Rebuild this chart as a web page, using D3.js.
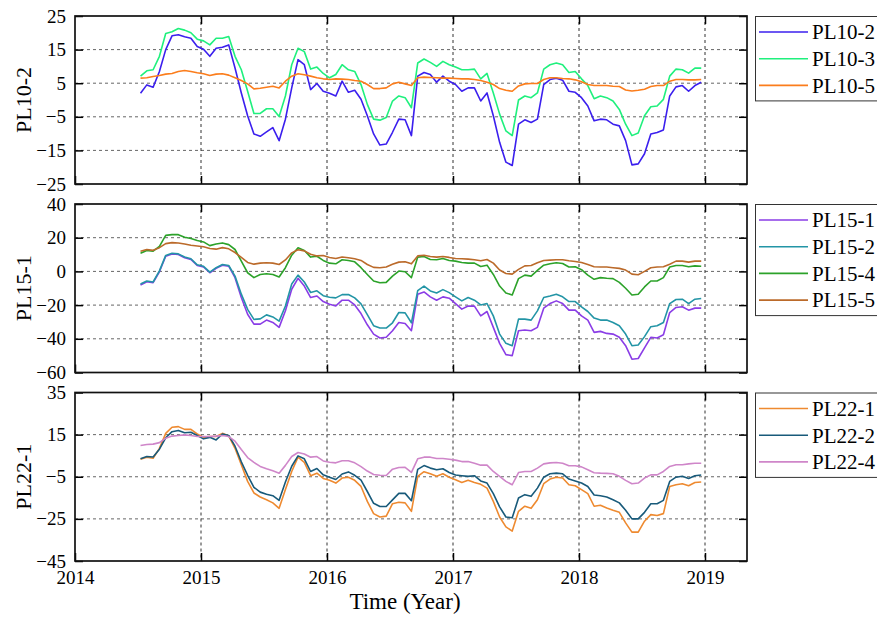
<!DOCTYPE html>
<html>
<head>
<meta charset="utf-8">
<script src="https://cdn.jsdelivr.net/npm/d3@7"></script>
<style>
  body { margin: 0; background: #fff; }
  svg text { font-family: "Liberation Serif", "Times New Roman", serif; }
</style>
</head>
<body>
<svg id="chart" width="877" height="621"></svg>
<script>
// time axis: one point every 0.05 year from mid 2014
const times = d3.range(90).map(i => 2014.52 + i * 0.05)
const yearTicks = [2014, 2015, 2016, 2017, 2018, 2019]
const serif = '"Liberation Serif", "Times New Roman", serif'

const pl10_2 = [2.0,4.5,3.8,8.5,15,19.1,19.4,18.8,18.4,15.9,15.1,13,15.4,15.7,16.4,9.5,2.1,-4.7,-10.1,-10.8,-9.5,-8.2,-12.1,-5.7,3.6,12,10.5,3.1,4.9,2.6,2.0,1.2,5.6,2.3,2.9,0.2,-4.7,-10.1,-13.4,-13.1,-9.6,-5.7,-5.9,-10.6,7.1,8.2,
  7.6,5.3,7.1,5.6,4.6,2.6,3.6,3.6,-0.3,2.1,-4.7,-12.6,-18.5,-19.5,-7.2,-5.9,-6.7,-5.7,4.6,6.1,6.5,5.9,2.6,2.3,0.7,-1.8,-6.2,-5.7,-5.9,-7.2,-7.7,-12.1,-19.3,-19,-16,-10.1,-9.7,-8.9,1.2,3.9,4.3,2.6,4.3,5.3]
const pl10_3 = [7.1,8.7,9.0,13,19.8,20.3,21.3,20.8,20,18.1,17.6,16.4,18.4,18.4,18.9,13,9,2.6,-4,-4,-2.6,-2.6,-4.9,1.2,10.5,15.4,14.4,9.2,9.8,7.9,6.6,7.6,10.5,9,8.5,4.6,-1.3,-5.7,-6,-5.2,-0.3,1.2,0.7,-2.3,11,12.2,
  11.2,10,11.5,10.5,9.8,9,9,9.2,6.3,7.9,2.1,-4.2,-9.2,-10.6,0,1.2,0.7,2.1,9.2,10.5,11,10.5,8.2,8.5,6.3,4.3,0.4,1.2,0.7,-0.3,-2.8,-7.2,-10.6,-9.8,-4.7,-2,-1.8,0.2,7.1,9.2,9,8,9.5,9.5]
const pl10_5 = [6.5,6.6,7.0,7.3,7.7,7.9,8.5,8.8,8.5,8.1,7.8,7.3,7.7,7.8,7.4,6.6,5.8,4.8,3.3,3.5,3.8,4.1,3.6,5.6,7.1,7.8,7.5,7.1,6.6,6.3,6.1,6.3,6.2,6.1,5.8,5.6,4.6,3.4,3.4,3.6,4.8,5.3,4.8,4.3,6.6,6.8,
  6.7,6.6,6.5,6.5,6.4,6.3,6.3,6.1,5.8,5.3,4.6,3.4,2.9,2.6,4.2,4.8,4.9,4.9,6.1,6.6,6.6,6.4,6.3,6.0,5.4,4.6,4.3,4.3,4.3,4.1,4.0,3.0,2.7,2.9,3.2,4.0,4.3,4.3,5.6,6.1,6.1,6.0,6.0,6.1]

const pl15_1 = [-8.1,-6.1,-6.7,-0.2,9.0,10.4,10,8.1,7.1,3.5,2.6,-0.8,1.8,3.7,3.1,-3.7,-15.5,-25.4,-31.3,-31.3,-28.9,-30.3,-33.2,-23.4,-10.6,-4.1,-8.7,-15.5,-14.6,-17.9,-19.5,-20.5,-17.1,-17.1,-19.9,-25,-31.7,-37.2,-39.5,-39.1,-35.2,-30.3,-30.9,-35.2,-13.6,-12.2,
  -15.1,-17.1,-15.1,-15.9,-19.1,-22.4,-20.5,-20.6,-26.4,-23.8,-33.2,-42.7,-49.4,-50,-35.2,-34.8,-35.2,-33.2,-21.8,-19.1,-17.5,-19.1,-23,-23,-26.4,-28.9,-36.2,-35.6,-36.8,-37.2,-39.1,-44.1,-52.1,-51.7,-45.4,-39.1,-39.5,-37.6,-24.4,-21.4,-21,-23,-21.8,-21.8]
const pl15_2 = [-7.5,-5.7,-6.3,0.3,9.5,10.8,10.4,8.5,7.5,3.9,3.0,-0.4,2.2,4.1,3.5,-2.8,-13.5,-22.5,-28.5,-28.2,-25.8,-27,-29.5,-20.5,-7.5,-2.2,-6.3,-12.5,-11.5,-14.4,-15.3,-15.7,-13.8,-13.7,-15.7,-19.3,-25.6,-32.2,-33.6,-33.6,-30.5,-24.4,-24.6,-30.5,-11.4,-8.7,
  -11.6,-12.8,-10.8,-12.6,-15.1,-17.5,-15.5,-17.1,-19.9,-19.1,-26.4,-37.2,-42.7,-44.1,-28.3,-28.3,-28.9,-23.4,-15.5,-14.6,-13.6,-15.1,-17.9,-17.9,-21,-23.8,-27.7,-28.9,-28.9,-30.3,-32.3,-37.2,-44.1,-43.7,-38.7,-32.8,-32.3,-30.3,-19.1,-16.7,-16.5,-19.1,-16.5,-16.1]
const pl15_4 = [10.8,12.4,12,14.9,21.4,21.8,21.8,20.3,19.5,18.3,17.5,15.3,16.3,16.9,15.9,13,6.1,-0.8,-3.7,-1.8,-1.4,-1.8,-3.3,2.2,9.6,14,12.4,8.5,9,6.5,4.9,4.5,6.9,6.5,5.7,2.2,-1.8,-5.7,-6.7,-6.5,-2.8,0.2,-0.2,-3.7,8.5,8.8,
  7.1,6.9,7.7,6.5,6.1,5.3,4.9,4.9,2.9,3.7,-1.8,-8.7,-12.8,-14,-4.3,-2.2,-2.8,0.6,3.7,4.5,5.1,4.7,2.6,2.8,1,-2.2,-4.7,-3.7,-4.1,-4.3,-6.5,-10,-14,-13.6,-9.2,-5.7,-5.7,-3.7,2.6,3.5,3.5,2.8,3.3,3.1]
const pl15_5 = [12,13,12.5,14.1,16.5,17.1,16.9,16.3,15.5,15.1,14.6,13.6,13.2,14.1,13.4,11.2,8.3,5.3,4.3,4.9,5.1,4.9,4.1,6.8,11,12.8,12.2,10.2,9.2,9.4,8.3,7.7,8.5,8.1,7.5,6.5,4.1,2.4,2.2,2.6,4.3,5.5,5.7,4.5,9.2,9.6,
  8.8,8.5,8.8,8.3,7.7,7.5,7.3,6.9,6.3,7.1,4.9,0.8,-1.2,-1.6,1.2,3.3,3.5,5.1,6.5,6.7,6.9,6.9,6.3,5.9,5.3,4.1,2.8,2.6,2.6,2.2,1.8,0.8,-1.6,-2,0,2.2,2.6,2.8,4.3,6.1,6.1,5.5,6.1,6.1]

const pl22_1 = [3.3,4.3,3.8,8.5,15.6,18.5,18.8,17.5,17.5,15.3,13.7,14.1,14.1,15.6,14.4,8.5,0.7,-7.2,-12.7,-14.6,-15.9,-17.4,-20,-11.1,-2.5,4.3,1.8,-4.5,-3.3,-5.8,-6.7,-8,-5.6,-5.2,-6.7,-9.6,-16.7,-22.5,-24.1,-23.7,-17.8,-17.1,-17.4,-21.4,-4.8,-2.6,
  -3.6,-4.8,-3.6,-5.2,-6.4,-7.7,-6.7,-7.7,-8.6,-10.4,-16.7,-24.1,-28.8,-30.8,-21.4,-19,-20,-15.9,-8.3,-6.1,-5.2,-5.6,-8.8,-9.3,-11.1,-13,-19,-18.5,-19.8,-20.9,-21.9,-26.9,-31.3,-31.3,-26.1,-23,-23.4,-22.5,-9.6,-8.8,-8.3,-9.3,-7.7,-7.5]
const pl22_2 = [3.5,4.6,4.4,8.1,13.5,16.4,17,15.9,16.1,14.6,13,13.7,12.5,15.3,14.6,9.5,2.1,-4.3,-10,-12.3,-13.3,-14,-16.2,-7.5,0,4.9,3.5,-2.5,-1.1,-4.1,-5.2,-6.3,-3.7,-2.7,-4.3,-6.6,-12,-17.6,-19.1,-19.1,-16,-12.9,-12.9,-16.4,-1.5,0.3,
  -0.9,-1.7,-1.2,-3,-4.2,-4.5,-4.8,-4.5,-7,-8,-13,-19.3,-24.1,-24.5,-15.1,-13.5,-14.3,-10.4,-5.2,-3.6,-3.3,-3.6,-6.1,-7,-8,-9.6,-13.7,-14,-14.6,-15.9,-17.4,-20.9,-25,-25,-21.9,-17.8,-17.8,-16.2,-7.2,-5.2,-4.8,-5.8,-4.5,-4.2]
const pl22_4 = [9.8,10.3,10.5,11.2,13.3,14.3,14.6,14.9,14.6,14.1,14.1,14.1,14.3,14.6,14.1,11.9,7.9,4.1,1.8,-0.1,-1.2,-2.2,-3.3,0.4,4.6,6.5,5.8,4.3,4.6,2.5,1.9,1.6,2.6,2.6,1.6,-0.2,-2.3,-3.9,-4.3,-4.4,-1.4,-0.6,-0.5,-2.9,3.5,4.3,
  4.3,3.7,3.7,3.3,2.9,2.2,2.2,1.4,0.5,0.5,-2.5,-4.8,-7.2,-8.8,-3,-2.5,-2.5,-0.9,1.1,1.6,1.8,1.4,0.2,0.2,-0.3,-1.7,-3.1,-3.3,-3.4,-3.6,-4.8,-6.7,-8.3,-8,-5.6,-4.1,-4.1,-2.5,-0.1,0.7,0.7,1.1,1.4,1.4]

const panels = [
  {label: "PL10-2", top: 16, bottom: 184, domain: [-25, 25], ticks: [-25, -15, -5, 5, 15, 25],
   series: [{name: "PL10-2", values: pl10_2, color: "#3b1fee"},
            {name: "PL10-3", values: pl10_3, color: "#1ff07d"},
            {name: "PL10-5", values: pl10_5, color: "#fb7d1c"}]},
  {label: "PL15-1", top: 204, bottom: 372.5, domain: [-60, 40], ticks: [-60, -40, -20, 0, 20, 40],
   series: [{name: "PL15-1", values: pl15_1, color: "#8a3de6"},
            {name: "PL15-2", values: pl15_2, color: "#2395a6"},
            {name: "PL15-4", values: pl15_4, color: "#2ca22a"},
            {name: "PL15-5", values: pl15_5, color: "#bb6a2a"}]},
  {label: "PL22-1", top: 392.5, bottom: 561, domain: [-45, 35], ticks: [-45, -25, -5, 15, 35],
   series: [{name: "PL22-1", values: pl22_1, color: "#ee8a30"},
            {name: "PL22-2", values: pl22_2, color: "#185a7a"},
            {name: "PL22-4", values: pl22_4, color: "#cf86c9"}]}
]

const svg = d3.select("#chart")
const left = 75, right = 747
const x = d3.scaleLinear().domain([2014, 2019 + 1/3]).range([left, right])

panels.forEach((p, pi) => {
  const y = d3.scaleLinear().domain(p.domain).range([p.bottom, p.top])
  const g = svg.append("g")

  // grid
  g.selectAll(".hgrid").data(p.ticks.slice(1, -1)).enter().append("line")
    .attr("x1", left).attr("x2", right)
    .attr("y1", d => y(d)).attr("y2", d => y(d))
    .attr("stroke", "#666").attr("stroke-width", 1).attr("stroke-dasharray", "3,3")
  g.selectAll(".vgrid").data(yearTicks.slice(1)).enter().append("line")
    .attr("x1", d => x(d)).attr("x2", d => x(d))
    .attr("y1", p.top).attr("y2", p.bottom)
    .attr("stroke", "#333").attr("stroke-width", 1).attr("stroke-dasharray", "3,3")

  // lines
  const line = d3.line().x((d, i) => x(times[i])).y(d => y(d))
  p.series.forEach(s => {
    g.append("path")
      .datum(s.values)
      .attr("d", line)
      .attr("fill", "none")
      .attr("stroke", s.color)
      .attr("stroke-width", 1.6)
      .attr("stroke-linejoin", "round")
  })

  // axes, ticks pointing inward
  const yAxis = g.append("g").attr("transform", `translate(${left},0)`)
    .call(d3.axisLeft(y).tickValues(p.ticks).tickSize(-8).tickPadding(9))
  g.append("g").attr("transform", `translate(${right},0)`)
    .call(d3.axisRight(y).tickValues(p.ticks).tickSize(-8).tickFormat(""))
  g.append("g").attr("transform", `translate(0,${p.top})`)
    .call(d3.axisTop(x).tickValues(yearTicks.slice(1)).tickSize(-8).tickFormat(""))
  const xAxis = g.append("g").attr("transform", `translate(0,${p.bottom})`)
    .call(d3.axisBottom(x).tickValues(yearTicks).tickSize(-8).tickPadding(10)
      .tickFormat(pi === panels.length - 1 ? d3.format("d") : ""))
  ;[yAxis, xAxis].forEach(a => a.attr("font-family", serif).attr("font-size", 19)
    .selectAll("text").attr("fill", "#000"))
  g.selectAll(".domain").remove()
  g.selectAll(".tick line").attr("stroke", "#000").attr("stroke-width", 1.5)

  g.append("rect")
    .attr("x", left).attr("y", p.top)
    .attr("width", right - left).attr("height", p.bottom - p.top)
    .attr("fill", "none").attr("stroke", "#111").attr("stroke-width", 1.7)

  g.append("text")
    .attr("transform", `translate(31,${(p.top + p.bottom) / 2}) rotate(-90)`)
    .attr("text-anchor", "middle")
    .attr("font-family", serif)
    .attr("font-size", 22)
    .text(p.label)

  // legend
  const step = 26.7
  const legend = g.append("g").attr("transform", `translate(755,${p.top})`)
  legend.append("rect")
    .attr("x", 0.5).attr("y", 0.5)
    .attr("width", 140).attr("height", 31 + (p.series.length - 1) * step)
    .attr("fill", "#fff").attr("stroke", "#333").attr("stroke-width", 1)
  const items = legend.selectAll(".item").data(p.series).enter().append("g")
    .attr("transform", (d, i) => `translate(0,${16 + i * step})`)
  items.append("line")
    .attr("x1", 4).attr("x2", 53)
    .attr("stroke", d => d.color).attr("stroke-width", 1.6)
  items.append("text")
    .attr("x", 57).attr("dy", "0.35em")
    .attr("font-family", serif)
    .attr("font-size", 21)
    .text(d => d.name)
})

svg.append("text")
  .attr("x", 405).attr("y", 609)
  .attr("text-anchor", "middle")
  .attr("font-family", serif)
  .attr("font-size", 23)
  .text("Time (Year)")
</script>
</body>
</html>
